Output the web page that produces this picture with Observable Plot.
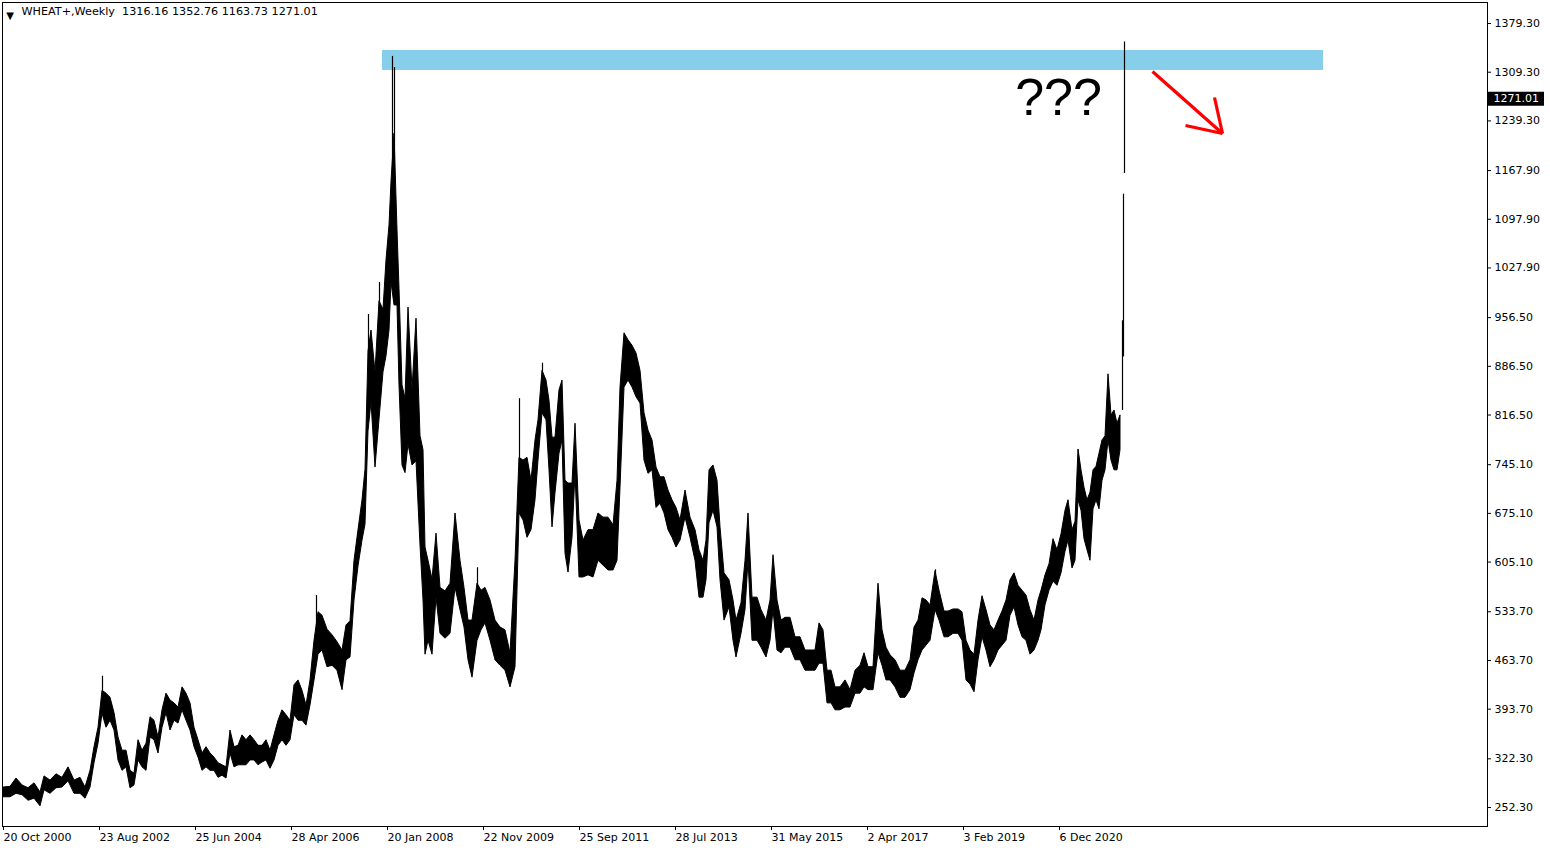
<!DOCTYPE html>
<html>
<head>
<meta charset="utf-8">
<script src="https://cdn.jsdelivr.net/npm/d3@7"></script>
<script src="https://cdn.jsdelivr.net/npm/@observablehq/plot@0.6"></script>
<style>
  html, body { margin: 0; padding: 0; background: #ffffff; }
  #chart svg { display: block; }
</style>
</head>
<body>
<div id="chart"></div>
<script>
// ---- header ----
const symbolName = "WHEAT+";
const timeframe = "Weekly";
const lastOHLC = [1316.16, 1352.76, 1163.73, 1271.01];

// ---- axis ticks ----
const priceTicks = [252.3, 322.3, 393.7, 463.7, 533.7, 605.1, 675.1, 745.1, 816.5, 886.5, 956.5, 1027.9, 1097.9, 1167.9, 1239.3, 1309.3, 1379.3];
const weekTickIdx = [0, 96, 192, 288, 384, 480, 576, 672, 768, 864, 960, 1056];
const weekTickLabels = ["20 Oct 2000", "23 Aug 2002", "25 Jun 2004", "28 Apr 2006", "20 Jan 2008", "22 Nov 2009", "25 Sep 2011", "28 Jul 2013", "31 May 2015", "2 Apr 2017", "3 Feb 2019", "6 Dec 2020"];

// ---- weekly bar ranges: [bar index, high, low] ----
const weeklyRanges = [
[0,281,267],[7,282,267],[13,294,272],[19,284,270],[25,280,262],[31,287,265],[37,274,254],[41,297,277],[47,291,272],[53,300,280],[59,295,281],[65,310,290],[71,291,272],[77,295,272],[82,281,265],[87,305,281],[91,339,316],[95,367,344],[99,420,387],[103,416,367],[107,410,377],[111,388,363],[115,353,320],[119,334,305],[123,334,310],[127,305,280],[131,301,284],[135,349,320],[139,334,310],[143,344,305],[147,382,353],[151,377,349],[155,353,330],[159,392,367],[163,416,388],[167,406,363],[171,402,377],[175,396,373],[179,425,392],[183,416,377],[187,402,363],[191,367,339],[195,349,324],[199,330,305],[203,339,310],[207,330,305],[211,324,305],[215,316,295],[219,313,298],[223,310,294],[227,363,330],[231,339,310],[235,341,313],[239,356,313],[243,349,313],[247,356,320],[251,349,320],[255,341,313],[259,341,317],[263,349,320],[267,334,308],[271,356,320],[275,377,341],[279,392,349],[283,385,341],[287,377,349],[291,428,385],[295,435,377],[299,420,377],[303,399,370],[307,435,399],[311,492,435],[315,533,472],[319,528,478],[324,508,454],[329,500,456],[334,490,449],[339,478,421],[343,514,464],[347,520,468],[351,607,550],[355,651,599],[359,694,636],[362,738,659],[365,908,793],[368,938,835],[372,878,741],[376,980,810],[380,968,878],[383,1039,901],[386,1089,938],[388,1152,1007],[391,1221,974],[394,1082,974],[396,998,859],[399,859,744],[402,840,733],[405,971,774],[409,853,744],[413,955,750],[417,786,629],[420,766,550],[422,626,472],[425,607,492],[429,580,472],[433,646,554],[437,568,502],[442,563,495],[447,574,502],[452,675,568],[457,607,536],[461,568,511],[465,521,464],[469,521,439],[474,574,492],[478,564,507],[482,568,517],[487,550,492],[492,521,464],[497,511,456],[502,507,449],[507,474,425],[512,607,454],[516,755,675],[520,751,665],[524,755,640],[528,722,651],[532,780,694],[535,809,751],[539,880,819],[543,866,809],[546,837,737],[549,784,655],[552,784,704],[556,852,761],[559,866,780],[562,722,617],[565,718,590],[569,718,640],[572,804,733],[576,665,583],[580,636,583],[585,651,586],[590,651,583],[595,675,607],[600,669,600],[605,669,593],[610,658,593],[614,722,607],[617,856,712],[621,934,856],[625,924,866],[629,916,856],[633,905,842],[637,880,833],[641,819,751],[645,794,732],[649,780,737],[653,741,683],[657,727,689],[661,727,675],[665,708,651],[669,694,640],[673,683,626],[677,665,636],[682,708,669],[687,669,640],[692,651,607],[696,622,554],[700,607,554],[703,636,579],[706,737,661],[710,744,679],[714,722,655],[717,655,579],[721,589,521],[726,579,540],[730,550,492],[733,521,468],[738,546,502],[742,607,536],[745,675,607],[749,554,492],[754,554,492],[758,536,482],[763,521,468],[767,550,492],[770,615,536],[774,550,478],[778,521,474],[782,525,482],[787,525,482],[792,497,464],[797,497,464],[802,478,449],[807,478,449],[812,478,449],[816,517,459],[820,507,459],[824,449,402],[828,449,402],[832,425,392],[837,425,392],[842,435,396],[847,421,396],[852,449,416],[857,456,416],[861,474,425],[865,454,421],[870,454,421],[875,574,474],[879,507,456],[883,482,435],[887,471,435],[892,464,425],[897,449,410],[902,449,410],[907,464,421],[911,511,445],[915,521,464],[919,553,478],[923,550,485],[927,543,492],[932,592,536],[936,564,521],[941,534,497],[945,534,497],[950,537,502],[955,537,502],[959,533,492],[963,492,435],[967,478,429],[971,472,418],[975,521,464],[979,556,497],[983,536,478],[987,514,454],[991,507,464],[995,521,478],[999,534,485],[1003,550,492],[1007,579,528],[1011,589,540],[1015,571,514],[1019,564,497],[1023,557,492],[1027,536,472],[1031,521,478],[1035,550,492],[1038,564,507],[1042,586,543],[1046,602,564],[1050,638,577],[1054,622,571],[1058,645,589],[1062,679,620],[1065,694,636],[1069,651,596],[1072,663,607],[1075,767,694],[1078,737,679],[1081,712,638],[1084,694,622],[1087,705,607],[1090,737,681],[1093,742,694],[1096,761,681],[1099,780,722],[1102,786,737],[1105,875,780],[1108,816,751],[1111,823,737],[1114,804,737],[1117,816,766]
];

// single-week spikes: [bar index, high, low]
const spikes = [[99,441,400],[313,557,500],[365,961,900],[376,1007,950],[389,1332,1064],[391,1316,1140],[474,597,560],[516,840,720],[539,891,850],[932,594,560]];

// final weeks: [bar index, high, low]
const lastBars = [[1119,952,823],[1120,1134,900],[1121,1352.76,1163.73]];

// ---- annotations ----
const resistanceZone = {from: 379, to: 1320, low: 1311.8, high: 1340.5};
const questionText = "???";
const questionAt = [1055, 1271];
const arrowSegments = [
  [1149, 1310.4, 1219, 1221.2],
  [1211, 1272.9, 1219, 1221.2],
  [1182, 1232.7, 1219, 1221.2]
];

const lastClose = lastOHLC[3];
const headerLine = `${symbolName},${timeframe}\u00a0\u00a0${lastOHLC.map(v => v.toFixed(2)).join(" ")}`;

const chart = Plot.plot({
  width: 1550,
  height: 850,
  marginLeft: 2,
  marginRight: 63,
  marginTop: 2,
  marginBottom: 24,
  x: {domain: [-1, 1484]},
  y: {domain: [225, 1409.5]},
  style: {fontFamily: "'DejaVu Sans', sans-serif", fontSize: "11px", color: "black", background: "white"},
  marks: [
    Plot.rect([resistanceZone], {x1: "from", x2: "to", y1: "low", y2: "high", fill: "#87CEEB"}),
    Plot.areaY(weeklyRanges, {x: d => d[0], y1: d => d[2], y2: d => d[1], fill: "black", stroke: "black", strokeWidth: 1}),
    Plot.ruleX(spikes, {x: d => d[0], y1: d => d[2], y2: d => d[1], stroke: "black", strokeWidth: 1.2}),
    Plot.ruleX(lastBars, {x: d => d[0], y1: d => d[2], y2: d => d[1], stroke: "black", strokeWidth: 1.2}),
    Plot.text([questionText], {x: questionAt[0], y: questionAt[1], text: d => d, fontSize: 52, fontFamily: "'Liberation Sans', Arial, sans-serif", fill: "black", textAnchor: "middle"}),
    Plot.link(arrowSegments, {x1: d => d[0], y1: d => d[1], x2: d => d[2], y2: d => d[3], stroke: "#ff0000", strokeWidth: 3.2, strokeLinecap: "butt"}),
    Plot.axisY({anchor: "right", ticks: priceTicks, tickFormat: d => d.toFixed(2), tickSize: 3, tickPadding: 4, label: null}),
    Plot.axisX({ticks: weekTickIdx, tickFormat: d => weekTickLabels[weekTickIdx.indexOf(d)], textAnchor: "start", tickSize: 4, tickPadding: 3, label: null}),
    Plot.ruleY([lastClose], {y: d => d, x1: 1485, x2: 1541, stroke: "black", strokeWidth: 14}),
    Plot.text([lastClose], {y: d => d, x: 1490, text: d => d.toFixed(2), textAnchor: "start", fill: "white"}),
    Plot.text(["\u25BC"], {frameAnchor: "top-left", dx: 7.5, dy: 9, text: d => d, fontSize: 10, textAnchor: "middle", fill: "black"}),
    Plot.text([headerLine], {frameAnchor: "top-left", dx: 19, dy: 5, text: d => d, textAnchor: "start", lineAnchor: "top", fill: "black", fontSize: 11.2}),
    Plot.frame({stroke: "black"})
  ]
});
document.getElementById("chart").appendChild(chart);
</script>
</body>
</html>
